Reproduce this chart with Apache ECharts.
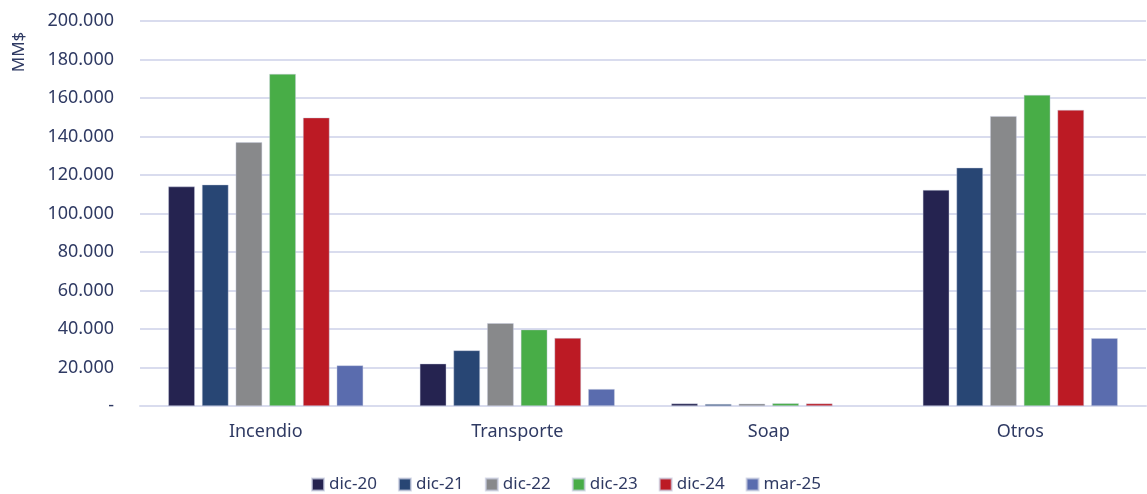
<!DOCTYPE html>
<html>
<head>
<meta charset="utf-8">
<script src="https://cdn.jsdelivr.net/npm/echarts@6/dist/echarts.min.js"></script>
<style>
  html, body { margin: 0; padding: 0; background: #fff; }
  #chart { width: 1147px; height: 494px; }
</style>
</head>
<body>
<div id="chart"></div>
<script>
// categorias y series (MM$)
var categories = ['Incendio', 'Transporte', 'Soap', 'Otros'];
var seriesNames = ['dic-20', 'dic-21', 'dic-22', 'dic-23', 'dic-24', 'mar-25'];
var dic20 = [114000, 22000, 1300, 112200];
var dic21 = [115000, 28900, 1000, 123800];
var dic22 = [137000, 43000, 1200, 150600];
var dic23 = [172500, 39700, 1400, 161600];
var dic24 = [149800, 35300, 1300, 153800];
var mar25 = [21100, 8800, null, 35200];
var colors = ['#252350', '#284674', '#88898b', '#48ad47', '#bc1a24', '#5a6cae'];

var values = [dic20, dic21, dic22, dic23, dic24, mar25];
var textColor = '#2f3a63';
var font = '"Noto Sans", sans-serif';

function fmt(v) {
  if (v === 0) return '-';
  return String(v).replace(/\B(?=(\d{3})+(?!\d))/g, '.');
}

var mychart = echarts.init(document.getElementById('chart'));
mychart.setOption({
  animation: false,
  color: colors,
  grid: { left: 140, right: 1, top: 21, bottom: 88 },
  legend: {
    top: 471,
    left: 306,
    itemWidth: 12,
    itemHeight: 12,
    itemGap: 21,
    icon: 'rect',
    textStyle: { color: textColor, fontSize: 17, fontFamily: font },
    data: seriesNames
  },
  graphic: [{
    type: 'text',
    x: 19,
    y: 52,
    rotation: Math.PI / 2,
    style: {
      text: 'MM$',
      fill: textColor,
      font: '17px ' + font,
      align: 'center',
      verticalAlign: 'middle'
    }
  }],
  xAxis: {
    type: 'category',
    data: categories,
    axisTick: { show: false },
    axisLine: { lineStyle: { color: '#d9dcee', width: 2 } },
    axisLabel: { color: textColor, fontSize: 18, fontFamily: font, margin: 17 }
  },
  yAxis: {
    type: 'value',
    min: 0,
    max: 200000,
    interval: 20000,
    axisLine: { show: false },
    axisTick: { show: false },
    splitLine: { lineStyle: { color: '#d9dcee', width: 2 } },
    axisLabel: {
      color: textColor, fontSize: 18, fontFamily: font, margin: 26,
      formatter: fmt
    }
  },
  series: seriesNames.map(function (name, i) {
    return {
      name: name,
      type: 'bar',
      data: values[i],
      barGap: '27%',
      barCategoryGap: '22.5%',
      itemStyle: { borderColor: 'rgba(200,204,224,0.7)', borderWidth: 0.6 }
    };
  })
});
</script>
</body>
</html>
